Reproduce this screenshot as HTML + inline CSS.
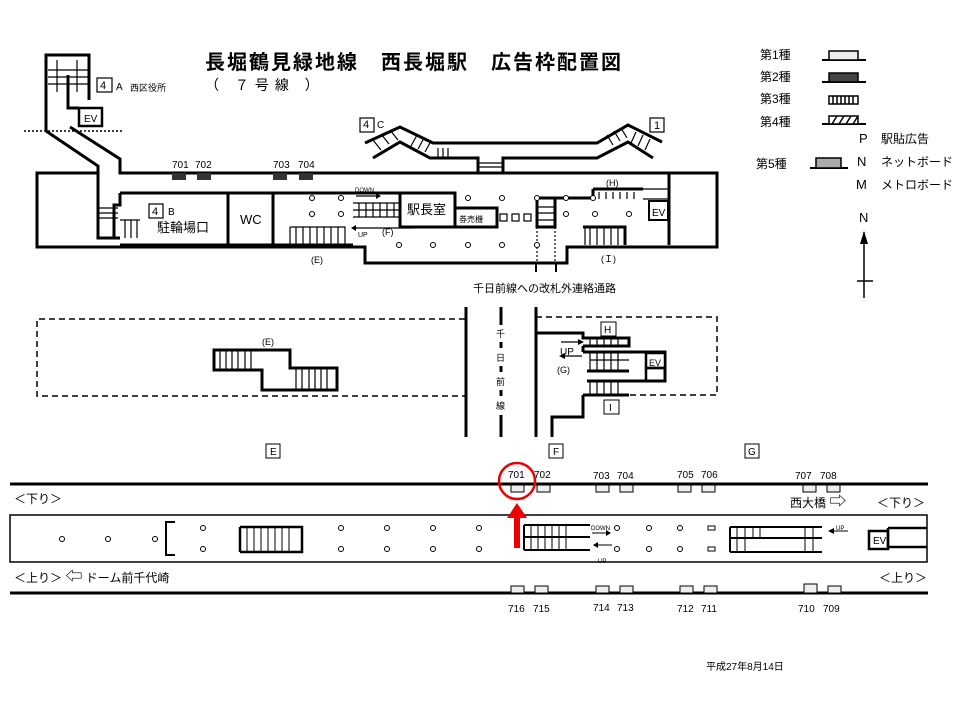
<!DOCTYPE html>
<html><head><meta charset="utf-8"><style>
html,body{margin:0;padding:0;background:#fff;}
svg{display:block;}
text{font-family:"Liberation Sans","Noto Sans CJK JP",sans-serif;fill:#000;}
</style></head><body>
<svg width="960" height="720" viewBox="0 0 960 720" xmlns="http://www.w3.org/2000/svg">
<text x="205" y="69" font-size="20" font-weight="bold" letter-spacing="2">長堀鶴見緑地線　西長堀駅　広告枠配置図</text>
<text x="205" y="90" font-size="14" letter-spacing="6">（ ７号線 ）</text>

<!-- Legend -->
<g font-size="12">
<text x="760" y="59">第1種</text><text x="760" y="81">第2種</text><text x="760" y="103">第3種</text><text x="760" y="126">第4種</text>
<text x="756" y="168">第5種</text>
<text x="859" y="143" font-size="13">P</text><text x="881" y="143">駅貼広告</text>
<text x="857" y="166" font-size="13">N</text><text x="881" y="166">ネットボード</text>
<text x="856" y="189" font-size="13">M</text><text x="881" y="189">メトロボード</text>
<text x="859" y="222" font-size="13">N</text>
</g>
<g stroke="#000" stroke-width="2">
<line x1="822" y1="60" x2="866" y2="60"/><rect x="829" y="51" width="29" height="9" fill="#eee" stroke-width="1.5"/>
<line x1="822" y1="82" x2="866" y2="82"/><rect x="829" y="73" width="29" height="9" fill="#444" stroke-width="1.5"/>
<rect x="829" y="96" width="29" height="8" fill="#fff" stroke-width="1.5"/>
<path d="M833 96v8M837 96v8M841 96v8M845 96v8M849 96v8M853 96v8" stroke-width="1.5"/>
<line x1="822" y1="124" x2="866" y2="124"/><rect x="829" y="116" width="29" height="8" fill="#fff" stroke-width="1.5"/>
<path d="M832 124l5-8M839 124l5-8M846 124l5-8M853 124l5-8" stroke-width="1.5"/>
<line x1="810" y1="168" x2="848" y2="168"/><rect x="816" y="158" width="25" height="10" fill="#aaa" stroke-width="1.5"/>
<line x1="864" y1="232" x2="864" y2="298" stroke-width="1.5"/><line x1="857" y1="281" x2="873" y2="281" stroke-width="1.5"/>
</g>
<polygon points="864,231 860,244 868,244" fill="#000"/>

<!-- Top plan -->
<g fill="none" stroke="#000" stroke-width="3">
<path d="M46 131V55H89V100"/>
<path d="M68 75V108H79"/>
<path d="M46 131L98 166V238H120"/>
<path d="M70 127L120 159V173H717V247H567V263H365V247H37V173H98"/>
<path d="M120 193H353M120 193V205H114V238M120 193V205"/>
<path d="M273 193V245M228 193V245M120 245H353"/>
<path d="M353 193H400M400 193H455V227H400ZM455 208H497V227H455"/>
<path d="M537 198H555V227H537ZM555 198H593M593 189H643M593 189V199"/>
<path d="M583 227H625V245"/>
<path d="M669 173V245"/>
<rect x="649" y="201" width="19" height="19" stroke-width="2"/>
<path d="M365 143L400 127L433 143H597L628 125L662 142"/>
<path d="M373 158L400 142L430 158H478V172M503 172V158H597L628 142L653 158"/>
</g>
<g stroke="#000" stroke-width="1.2" fill="none">
<path d="M478 163H503M478 167H503"/>
<path d="M48 70H88M48 77H88M48 84H88M57 60V92M77 60V92"/>
<path d="M98 208H118M98 213H118M98 218H118"/>
<path d="M120 220H140M125 220V238M131 220V238M137 220V238"/>
<path d="M290 227H345V245M290 227V245M296 227V245M303 227V245M310 227V245M317 227V245M324 227V245M331 227V245M338 227V245"/>
<path d="M353 203H400M353 210H400M359 203V217M366 203V217M373 203V217M380 203V217M387 203V217M394 203V217M353 217H400"/>
<path d="M537 207H555M537 213H555M537 220H555"/>
<path d="M599 192V199M606 192V199M613 192V199M620 192V199M627 192V199M634 192V199M643 199H669M643 189H669"/>
<path d="M585 227V245M590 227V245M597 227V245M604 227V245M611 227V245M618 227V245"/>
<path d="M373 140l8 10M381 134l8 10M390 130l8 10M417 135l-6 11M424 138l-6 11M431 141l-6 11M438 148V158M443 148V158M448 148V158M607 135l6 10M614 131l6 10M621 128l6 10M636 132l-5 11M643 135l-5 11M650 139l-5 11"/>
<path d="M24 131H122" stroke-dasharray="2,2" stroke-width="1.5"/>
<path d="M537 227V263M555 227V263" stroke-dasharray="2,2"/>
<path d="M536 263V272M556 263V272" stroke-width="2"/>
<path d="M356 196H376M414 228H356"/>
</g>
<polygon points="376,193 381,196 376,199" fill="#000"/><polygon points="356,225 351,228 356,231" fill="#000"/>
<g stroke="#000" stroke-width="1.2" fill="#fff">
<rect x="79" y="108" width="23" height="18" stroke-width="2.5"/>
<rect x="97" y="78" width="15" height="14"/><rect x="149" y="204" width="14" height="14"/>
<rect x="360" y="118" width="14" height="14"/><rect x="650" y="118" width="14" height="14"/>
<rect x="500" y="214" width="7" height="7"/><rect x="512" y="214" width="7" height="7"/><rect x="524" y="214" width="7" height="7"/>
</g>
<g fill="#333"><rect x="172" y="173" width="14" height="7"/><rect x="197" y="173" width="14" height="7"/><rect x="273" y="173" width="14" height="7"/><rect x="299" y="173" width="14" height="7"/></g>
<g fill="#fff" stroke="#000" stroke-width="1">
<circle cx="312" cy="198" r="2.5"/><circle cx="341" cy="198" r="2.5"/><circle cx="312" cy="214" r="2.5"/><circle cx="341" cy="214" r="2.5"/>
<circle cx="468" cy="198" r="2.5"/><circle cx="502" cy="198" r="2.5"/><circle cx="537" cy="198" r="2.5"/><circle cx="566" cy="198" r="2.5"/><circle cx="593" cy="198" r="2.5"/>
<circle cx="566" cy="214" r="2.5"/><circle cx="595" cy="214" r="2.5"/><circle cx="629" cy="214" r="2.5"/>
<circle cx="399" cy="245" r="2.5"/><circle cx="433" cy="245" r="2.5"/><circle cx="468" cy="245" r="2.5"/><circle cx="502" cy="245" r="2.5"/><circle cx="537" cy="245" r="2.5"/>
</g>
<g font-size="10">
<text x="100" y="89" font-size="11">4</text><text x="116" y="90">A</text><text x="130" y="91" font-size="9">西区役所</text>
<text x="84" y="122">EV</text>
<text x="152" y="215" font-size="11">4</text><text x="168" y="215">B</text>
<text x="157" y="232" font-size="13">駐輪場口</text>
<text x="240" y="224" font-size="13">WC</text>
<text x="363" y="128" font-size="11">4</text><text x="377" y="128">C</text>
<text x="654" y="129" font-size="11">1</text>
<text x="172" y="168">701</text><text x="195" y="168">702</text><text x="273" y="168">703</text><text x="298" y="168">704</text>
<text x="355" y="192" font-size="6">DOWN</text><text x="358" y="237" font-size="7">UP</text>
<text x="382" y="235" font-size="9">(F)</text><text x="311" y="263" font-size="9">(E)</text>
<text x="407" y="214" font-size="13">駅長室</text><text x="459" y="222" font-size="8">券売機</text>
<text x="606" y="186" font-size="9">(H)</text><text x="652" y="216">EV</text>
<text x="601" y="262" font-size="9">(Ｉ)</text>
<text x="473" y="292" font-size="11">千日前線への改札外連絡通路</text>
</g>

<!-- Middle -->
<g fill="none" stroke="#000">
<path d="M465 319H37V396H465M536 317H717V395H629" stroke-width="1.5" stroke-dasharray="6,4"/>
<path d="M466 307V437M536 307V437" stroke-width="3"/>
<path d="M501 307V325M501 342V348M501 366V372M501 390V396M501 415V437" stroke-width="3"/>
<path d="M214 350H290V368H337V390H262V370H214Z" stroke-width="3"/>
<path d="M536 333H583V338H629V346H583M583 352H665V381H646M587 381H646M583 395H629M583 395V417H552V437M583 352V346M587 371H629" stroke-width="3"/>
<rect x="646" y="353" width="19" height="15" fill="#fff" stroke-width="2.5"/><rect x="646" y="368" width="19" height="13" stroke-width="2.5"/>
<path d="M220 350V370M226 350V370M232 350V370M238 350V370M245 350V370M251 350V370M296 368V390M302 368V390M309 368V390M315 368V390M321 368V390M327 368V390M590 338V346M597 338V346M604 338V346M611 338V346M618 338V346M590 352V371M597 352V371M604 352V371M611 352V371M618 352V371M590 360H629M590 381V395M597 381V395M604 381V395M611 381V395M618 381V395M561 342H578M582 356H565" stroke-width="1.2"/>
</g>
<polygon points="578,339 584,342 578,345" fill="#000"/><polygon points="565,353 559,356 565,359" fill="#000"/>
<g font-size="9">
<text x="496" y="337" font-size="9">千</text><text x="496" y="361">日</text><text x="496" y="385">前</text><text x="496" y="409">線</text>
<text x="262" y="345">(E)</text><text x="560" y="355" font-size="10">UP</text><text x="557" y="373">(G)</text><text x="649" y="366">EV</text>
</g>
<g fill="#fff" stroke="#000" stroke-width="1"><rect x="601" y="322" width="15" height="14"/><rect x="604" y="400" width="15" height="14"/>
<rect x="266" y="444" width="14" height="14"/><rect x="549" y="444" width="14" height="14"/><rect x="745" y="444" width="14" height="14"/></g>
<g font-size="10"><text x="604" y="333">H</text><text x="609" y="411">I</text><text x="270" y="455">E</text><text x="553" y="455">F</text><text x="748" y="455">G</text></g>

<!-- Bottom platform -->
<g stroke="#000" fill="none">
<line x1="10" y1="484" x2="928" y2="484" stroke-width="3"/>
<line x1="10" y1="593" x2="928" y2="593" stroke-width="3"/>
<rect x="10" y="515" width="917" height="47" stroke-width="1.5"/>
<path d="M175 522H166V555H175" stroke-width="2"/>
<path d="M240 527V552M240 527H302V552H240" stroke-width="2.5"/>
<path d="M247 527V552M254 527V552M261 527V552M268 527V552M275 527V552M282 527V552M289 527V552" stroke-width="1"/>
<path d="M524 525H590M524 537H590M524 550H590M524 525V550" stroke-width="2"/>
<path d="M531 525V550M538 525V550M545 525V550M552 525V550M559 525V550M566 525V550" stroke-width="1"/>
<path d="M730 527H822M730 552H822M730 527V552M730 538H822" stroke-width="2"/>
<path d="M737 527V552M745 527V552M753 527V538M760 527V538M805 527V552M813 527V552" stroke-width="1"/>
<path d="M592 533H606M612 545H598M834 531H848" stroke-width="1"/>
<rect x="869" y="531" width="19" height="18" stroke-width="2.5"/>
<path d="M888 528H927M888 547H927M888 528V547" stroke-width="2.5"/>
</g>
<polygon points="606,530 611,533 606,536" fill="#000"/><polygon points="598,542 593,545 598,548" fill="#000"/><polygon points="834,528 828,531 834,534" fill="#000"/>
<g fill="#fff" stroke="#000" stroke-width="1">
<circle cx="62" cy="539" r="2.5"/><circle cx="108" cy="539" r="2.5"/><circle cx="155" cy="539" r="2.5"/>
<circle cx="203" cy="528" r="2.5"/><circle cx="203" cy="549" r="2.5"/>
<circle cx="341" cy="528" r="2.5"/><circle cx="387" cy="528" r="2.5"/><circle cx="433" cy="528" r="2.5"/><circle cx="479" cy="528" r="2.5"/>
<circle cx="341" cy="549" r="2.5"/><circle cx="387" cy="549" r="2.5"/><circle cx="433" cy="549" r="2.5"/><circle cx="479" cy="549" r="2.5"/>
<circle cx="617" cy="528" r="2.5"/><circle cx="649" cy="528" r="2.5"/><circle cx="680" cy="528" r="2.5"/>
<circle cx="617" cy="549" r="2.5"/><circle cx="649" cy="549" r="2.5"/><circle cx="680" cy="549" r="2.5"/>
<rect x="708" y="526" width="7" height="4"/><rect x="708" y="547" width="7" height="4"/>
</g>
<g fill="#eee" stroke="#000" stroke-width="1">
<rect x="511" y="485" width="13" height="7"/><rect x="537" y="485" width="13" height="7"/><rect x="596" y="485" width="13" height="7"/><rect x="620" y="485" width="13" height="7"/>
<rect x="678" y="485" width="13" height="7"/><rect x="702" y="485" width="13" height="7"/><rect x="803" y="485" width="13" height="7"/><rect x="827" y="485" width="13" height="7"/>
<rect x="511" y="586" width="13" height="7"/><rect x="535" y="586" width="13" height="7"/><rect x="596" y="586" width="13" height="7"/><rect x="620" y="586" width="13" height="7"/>
<rect x="680" y="586" width="13" height="7"/><rect x="704" y="586" width="13" height="7"/><rect x="804" y="584" width="13" height="9"/><rect x="828" y="586" width="13" height="7"/>
</g>
<g font-size="10">
<text x="508" y="478">701</text><text x="534" y="478">702</text><text x="593" y="479">703</text><text x="617" y="479">704</text>
<text x="677" y="478">705</text><text x="701" y="478">706</text><text x="795" y="479">707</text><text x="820" y="479">708</text>
<text x="508" y="612">716</text><text x="533" y="612">715</text><text x="593" y="611">714</text><text x="617" y="611">713</text>
<text x="677" y="612">712</text><text x="701" y="612">711</text><text x="798" y="612">710</text><text x="823" y="612">709</text>
<text x="591" y="530" font-size="6">DOWN</text><text x="598" y="563" font-size="6">UP</text><text x="836" y="530" font-size="6">UP</text>
<text x="873" y="544">EV</text>
</g>
<g font-size="12">
<text x="14" y="503">＜下り＞</text><text x="790" y="507">西大橋 <tspan font-size="17">⇨</tspan></text><text x="877" y="507">＜下り＞</text>
<text x="14" y="582">＜上り＞ <tspan font-size="17">⇦</tspan> ドーム前千代崎</text><text x="879" y="582">＜上り＞</text>
</g>
<circle cx="517" cy="481" r="18" fill="none" stroke="#e00" stroke-width="2.5"/>
<rect x="514" y="516" width="6" height="32" fill="#e00"/>
<polygon points="507,518 517,503 527,518" fill="#e00"/>

<text x="706" y="670" font-size="10">平成27年8月14日</text>
</svg>
</body></html>
